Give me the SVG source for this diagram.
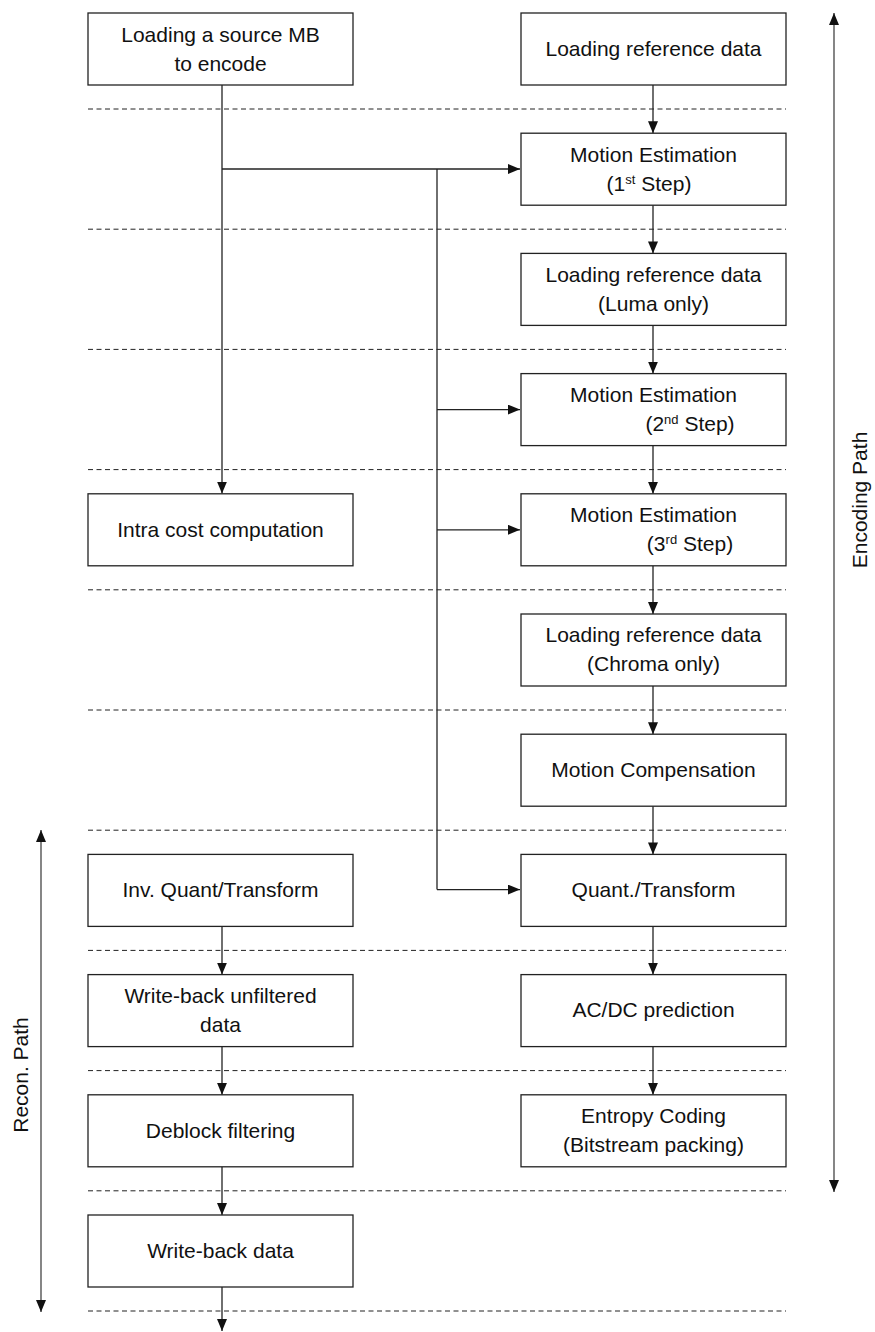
<svg xmlns="http://www.w3.org/2000/svg" width="875" height="1332" viewBox="0 0 875 1332">
<defs>
<marker id="ah" viewBox="0 0 12 10" refX="12" refY="5" markerWidth="12" markerHeight="10" markerUnits="userSpaceOnUse" orient="auto-start-reverse">
<path d="M0,0 L12,5 L0,10 Z" fill="#111"/>
</marker>
</defs>
<style>
.box{fill:#fff;stroke:#222;stroke-width:1.3}
text{font-family:"Liberation Sans",Arial,sans-serif;font-size:21px;fill:#111;text-anchor:middle}
.sup{font-size:13px}
.dash{stroke:#222;stroke-width:1;stroke-dasharray:5,3.5;fill:none}
.ln{stroke:#222;stroke-width:1.3;fill:none}
.ar{stroke:#222;stroke-width:1.3;fill:none;marker-end:url(#ah)}
.ar2{stroke:#444;stroke-width:1.3;fill:none;marker-end:url(#ah);marker-start:url(#ah)}
</style>
<rect width="875" height="1332" fill="#fff"/>
<g id="dashes">
<line class="dash" x1="88" y1="109" x2="786" y2="109"/>
<line class="dash" x1="88" y1="229.2" x2="786" y2="229.2"/>
<line class="dash" x1="88" y1="349.4" x2="786" y2="349.4"/>
<line class="dash" x1="88" y1="469.6" x2="786" y2="469.6"/>
<line class="dash" x1="88" y1="589.8" x2="786" y2="589.8"/>
<line class="dash" x1="88" y1="710" x2="786" y2="710"/>
<line class="dash" x1="88" y1="830.2" x2="786" y2="830.2"/>
<line class="dash" x1="88" y1="950.4" x2="786" y2="950.4"/>
<line class="dash" x1="88" y1="1070.6" x2="786" y2="1070.6"/>
<line class="dash" x1="88" y1="1190.8" x2="786" y2="1190.8"/>
<line class="dash" x1="88" y1="1311" x2="786" y2="1311"/>
</g>
<g id="connectors">
<line class="ar" x1="222" y1="85" x2="222" y2="493.6"/>
<line class="ar" x1="222" y1="169" x2="520" y2="169"/>
<line class="ln" x1="437" y1="169" x2="437" y2="889.6"/>
<line class="ar" x1="437" y1="409.6" x2="520" y2="409.6"/>
<line class="ar" x1="437" y1="529.8" x2="520" y2="529.8"/>
<line class="ar" x1="437" y1="889.6" x2="520" y2="889.6"/>
<line class="ar" x1="653" y1="85" x2="653" y2="133.2"/>
<line class="ar" x1="653" y1="205.2" x2="653" y2="253.4"/>
<line class="ar" x1="653" y1="325.4" x2="653" y2="373.6"/>
<line class="ar" x1="653" y1="445.6" x2="653" y2="493.8"/>
<line class="ar" x1="653" y1="565.8" x2="653" y2="614"/>
<line class="ar" x1="653" y1="686" x2="653" y2="734.2"/>
<line class="ar" x1="653" y1="806.2" x2="653" y2="854.4"/>
<line class="ar" x1="653" y1="926.4" x2="653" y2="974.6"/>
<line class="ar" x1="653" y1="1046.6" x2="653" y2="1094.8"/>
<line class="ar" x1="222" y1="926.4" x2="222" y2="974.6"/>
<line class="ar" x1="222" y1="1046.6" x2="222" y2="1094.8"/>
<line class="ar" x1="222" y1="1166.8" x2="222" y2="1215"/>
<line class="ar" x1="222" y1="1287" x2="222" y2="1331"/>
<line class="ar2" x1="834" y1="13" x2="834" y2="1192"/>
<line class="ar2" x1="41" y1="830" x2="41" y2="1312"/>
</g>
<g id="n1"><rect class="box" x="88" y="13" width="265" height="72"/><text x="220.5" y="42">Loading a source MB</text><text x="220.5" y="71">to encode</text></g>
<g id="n2"><rect class="box" x="521" y="13" width="265" height="72"/><text x="653.5" y="56">Loading reference data</text></g>
<g id="n3"><rect class="box" x="521" y="133.2" width="265" height="72"/><text x="653.5" y="162">Motion Estimation</text><text x="649" y="191">(1<tspan class="sup" dy="-7">st</tspan><tspan dy="7"> Step)</tspan></text></g>
<g id="n4"><rect class="box" x="521" y="253.4" width="265" height="72"/><text x="653.5" y="282">Loading reference data</text><text x="653.5" y="311">(Luma only)</text></g>
<g id="n5"><rect class="box" x="521" y="373.6" width="265" height="72"/><text x="653.5" y="402">Motion Estimation</text><text x="690" y="431">(2<tspan class="sup" dy="-7">nd</tspan><tspan dy="7"> Step)</tspan></text></g>
<g id="n6"><rect class="box" x="521" y="493.8" width="265" height="72"/><text x="653.5" y="522">Motion Estimation</text><text x="690" y="551">(3<tspan class="sup" dy="-7">rd</tspan><tspan dy="7"> Step)</tspan></text></g>
<g id="n7"><rect class="box" x="88" y="493.8" width="265" height="72"/><text x="220.5" y="537">Intra cost computation</text></g>
<g id="n8"><rect class="box" x="521" y="614" width="265" height="72"/><text x="653.5" y="642">Loading reference data</text><text x="653.5" y="671">(Chroma only)</text></g>
<g id="n9"><rect class="box" x="521" y="734.2" width="265" height="72"/><text x="653.5" y="777">Motion Compensation</text></g>
<g id="n10"><rect class="box" x="521" y="854.4" width="265" height="72"/><text x="653.5" y="897">Quant./Transform</text></g>
<g id="n11"><rect class="box" x="88" y="854.4" width="265" height="72"/><text x="220.5" y="897">Inv. Quant/Transform</text></g>
<g id="n12"><rect class="box" x="521" y="974.6" width="265" height="72"/><text x="653.5" y="1017">AC/DC prediction</text></g>
<g id="n13"><rect class="box" x="88" y="974.6" width="265" height="72"/><text x="220.5" y="1003">Write-back unfiltered</text><text x="220.5" y="1032">data</text></g>
<g id="n14"><rect class="box" x="521" y="1094.8" width="265" height="72"/><text x="653.5" y="1123">Entropy Coding</text><text x="653.5" y="1152">(Bitstream packing)</text></g>
<g id="n15"><rect class="box" x="88" y="1094.8" width="265" height="72"/><text x="220.5" y="1138">Deblock filtering</text></g>
<g id="n16"><rect class="box" x="88" y="1215" width="265" height="72"/><text x="220.5" y="1258">Write-back data</text></g>
<g id="labels">
<text transform="translate(867,500) rotate(-90)">Encoding Path</text>
<text transform="translate(28,1075) rotate(-90)">Recon. Path</text>
</g>
</svg>
